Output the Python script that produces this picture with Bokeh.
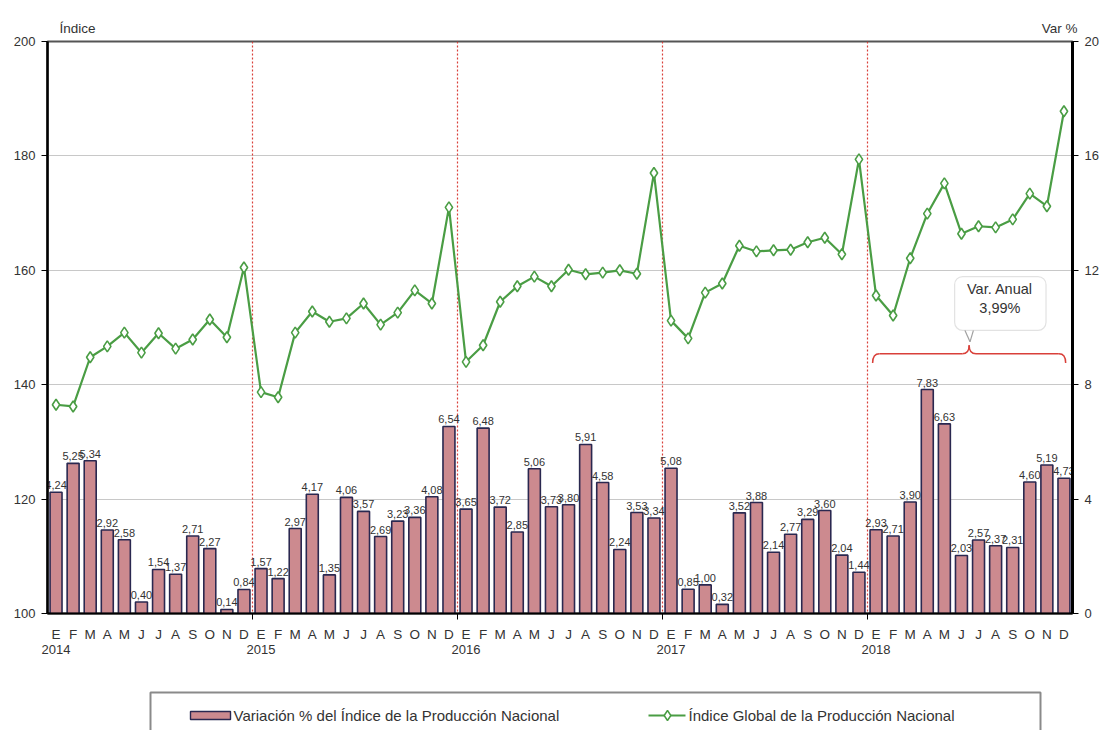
from bokeh.plotting import figure
from bokeh.models import Range1d, LinearAxis, FixedTicker, Span, Label, BoxAnnotation
from bokeh.layouts import column
from bokeh.embed import file_html
from bokeh.resources import INLINE
from bokeh.core.properties import value

# ---------------- data ----------------
months = ["E", "F", "M", "A", "M", "J", "J", "A", "S", "O", "N", "D"]
years = ["2014", "2015", "2016", "2017", "2018"]

var_pct = [
    4.24, 5.25, 5.34, 2.92, 2.58, 0.40, 1.54, 1.37, 2.71, 2.27, 0.14, 0.84,
    1.57, 1.22, 2.97, 4.17, 1.35, 4.06, 3.57, 2.69, 3.23, 3.36, 4.08, 6.54,
    3.65, 6.48, 3.72, 2.85, 5.06, 3.73, 3.80, 5.91, 4.58, 2.24, 3.53, 3.34,
    5.08, 0.85, 1.00, 0.32, 3.52, 3.88, 2.14, 2.77, 3.29, 3.60, 2.04, 1.44,
    2.93, 2.71, 3.90, 7.83, 6.63, 2.03, 2.57, 2.37, 2.31, 4.60, 5.19, 4.73,
]

indice = [
    136.5, 136.2, 144.8, 146.7, 149.1, 145.6, 149.0, 146.3, 147.9, 151.4, 148.3, 160.5,
    138.7, 137.8, 149.1, 152.8, 151.0, 151.6, 154.2, 150.5, 152.6, 156.5, 154.2, 171.0,
    144.0, 146.9, 154.5, 157.2, 158.9, 157.2, 160.1, 159.3, 159.6, 160.0, 159.4, 177.0,
    151.2, 148.1, 156.1, 157.7, 164.3, 163.3, 163.5, 163.6, 164.9, 165.7, 162.8, 179.4,
    155.6, 152.1, 162.1, 169.9, 175.2, 166.4, 167.7, 167.5, 168.9, 173.4, 171.2, 187.8,
]

left_ticks = [100, 120, 140, 160, 180, 200]
right_ticks = [0, 4, 8, 12, 16, 20]
left_title = "Índice"
right_title = "Var %"
annual_var_title = "Var. Anual"
annual_var_value = "3,99%"
bar_name = "Variación % del Índice de la Producción Nacional"
line_name = "Índice Global de la Producción Nacional"

# ---------------- derived ----------------
n = len(var_pct)
xs = list(range(n))
bar_labels = [f"{v:.2f}".replace(".", ",") for v in var_pct]
month_labels = months * len(years)
year_starts = [12 * i for i in range(len(years))]
boundaries = [s - 0.5 for s in year_starts[1:]]

FONT = "Liberation Sans"
BAR_FILL = "#CC8A8F"
BAR_LINE = "#2A2850"
GREEN = "#4A9D44"
RED = "#D9403A"
TXT = "#333333"

W, HM, HL = 1102, 676, 54
FL, FR = 47, 1072  # frame left/right in page px

p = figure(width=W, height=HM, x_range=Range1d(-0.5, n - 0.5), y_range=Range1d(100, 200),
           output_backend="svg", toolbar_location=None,
           min_border_left=FL, min_border_right=W - FR, min_border_top=41, min_border_bottom=63)
xa = p.below[0]
ya = p.left[0]
p.extra_y_ranges = {"var": Range1d(0, 20)}
p.background_fill_color = "white"
p.border_fill_color = "white"
p.outline_line_color = "#555555"
p.outline_line_width = 2

# grid
p.xgrid.visible = False
p.ygrid.ticker = FixedTicker(ticks=left_ticks)
p.ygrid.grid_line_color = "#C8C8C8"
p.ygrid.grid_line_width = 1.2

# left axis
ya.ticker = FixedTicker(ticks=left_ticks)
ya.axis_line_color = "black"
ya.axis_line_width = 2.5
ya.major_tick_out = 6
ya.major_tick_in = 0
ya.minor_tick_line_color = None
ya.major_label_text_font = FONT
ya.major_label_text_font_size = "13px"
ya.major_label_text_color = TXT
ya.major_label_standoff = 6

# right axis
ra = LinearAxis(y_range_name="var", ticker=FixedTicker(ticks=right_ticks))
ra.axis_line_color = "black"
ra.axis_line_width = 3
ra.major_tick_out = 6
ra.major_tick_in = 0
ra.minor_tick_line_color = None
ra.major_label_text_font = FONT
ra.major_label_text_font_size = "13px"
ra.major_label_text_color = TXT
ra.major_label_standoff = 6
p.add_layout(ra, "right")

# month axis
xa.ticker = FixedTicker(ticks=xs, minor_ticks=boundaries)
xa.major_label_overrides = {i: month_labels[i] for i in xs}
xa.axis_line_color = "black"
xa.axis_line_width = 2
xa.major_tick_line_color = None
xa.major_tick_out = 0
xa.major_tick_in = 0
xa.minor_tick_out = 6
xa.minor_tick_in = 0
xa.minor_tick_line_color = "black"
xa.major_label_text_font = FONT
xa.major_label_text_font_size = "13.5px"
xa.major_label_text_color = TXT
xa.major_label_standoff = 7

# year axis
yr = LinearAxis(ticker=FixedTicker(ticks=year_starts),
                major_label_overrides={s: years[i] for i, s in enumerate(year_starts)})
yr.axis_line_color = None
yr.major_tick_line_color = None
yr.minor_tick_line_color = None
yr.major_tick_out = 0
yr.minor_tick_out = 0
yr.major_label_standoff = 0
yr.major_label_text_font = FONT
yr.major_label_text_font_size = "13px"
yr.major_label_text_color = TXT
p.add_layout(yr, "below")

# axis titles, carried by an axis above the frame
title_ticks = [1.25, 58.75]
ta = LinearAxis(ticker=FixedTicker(ticks=title_ticks),
                major_label_overrides={title_ticks[0]: left_title, title_ticks[1]: right_title})
ta.axis_line_color = None
ta.major_tick_line_color = None
ta.minor_tick_line_color = None
ta.major_tick_out = 0
ta.minor_tick_out = 0
ta.major_label_standoff = 6
ta.major_label_text_font = FONT
ta.major_label_text_font_size = "13.5px"
ta.major_label_text_color = TXT
p.add_layout(ta, "above")

# year boundary dotted lines
for b in boundaries:
    p.add_layout(Span(location=b, dimension="height", line_color=RED, line_dash="2 2",
                      line_width=1.2, level="underlay"))

# bars
p.vbar(x=xs, top=var_pct, bottom=0, width=0.7, y_range_name="var",
       fill_color=BAR_FILL, line_color=BAR_LINE, line_width=1.6)
p.text(x=xs, y=var_pct, text=bar_labels, y_range_name="var",
       text_font=value(FONT), text_font_size="11px", text_color=TXT,
       text_align="center", text_baseline="bottom", y_offset=-3)

# line
p.line(xs, indice, line_color=GREEN, line_width=2.2)
p.scatter(xs, indice, marker="diamond", size=11, fill_color="white",
          line_color=GREEN, line_width=1.6)

# brace over 2018
bx0, bx1 = year_starts[-1] - 0.2, n - 1 + 0.1
bxc = (bx0 + bx1) / 2
yl, ym, yt = 143.8, 145.4, 146.9
p.quadratic(x0=[bx0, bxc - 0.4, bx1, bxc + 0.4], y0=[yl, ym, yl, ym],
            x1=[bx0 + 0.4, bxc, bx1 - 0.4, bxc], y1=[ym, yt, ym, yt],
            cx=[bx0, bxc, bx1, bxc], cy=[ym, ym, ym, ym],
            line_color=RED, line_width=1.5)
p.segment(x0=[bx0 + 0.4, bxc + 0.4], y0=[ym, ym], x1=[bxc - 0.4, bx1 - 0.4], y1=[ym, ym],
          line_color=RED, line_width=1.5)

# callout box
box = BoxAnnotation(left=bxc - 0.85, right=bxc + 4.5, top=158.9, bottom=149.5,
                    fill_color="white", fill_alpha=1, line_color="#A0A0A0", line_width=1.2,
                    border_radius=8, level="glyph")
p.add_layout(box)
p.patch([bxc - 0.25, bxc + 0.05, bxc + 0.25], [149.5, 147.5, 149.5],
        fill_color="white", line_color=None)
p.segment(x0=[bxc - 0.25, bxc + 0.25], y0=[149.5, 149.5], x1=[bxc + 0.05, bxc + 0.05],
          y1=[147.5, 147.5], line_color="#A0A0A0", line_width=1.2)
p.add_layout(Label(x=bxc + 1.8, y=156.8, text=annual_var_title, text_align="center",
                   text_baseline="middle", text_font=FONT, text_font_size="14.5px",
                   text_color=TXT))
p.add_layout(Label(x=bxc + 1.8, y=153.4, text=annual_var_value, text_align="center",
                   text_baseline="middle", text_font=FONT, text_font_size="14.5px",
                   text_color=TXT))

# ---------------- legend strip (frame aligned with main plot) ----------------
leg = figure(width=W, height=HL, x_range=Range1d(FL, FR), y_range=Range1d(0, HL),
             output_backend="svg", toolbar_location=None, min_border=0,
             min_border_left=FL, min_border_right=W - FR,
             x_axis_location=None, y_axis_location=None)
leg.outline_line_color = None
leg.xgrid.visible = False
leg.ygrid.visible = False
leg.quad(left=[150], right=[1040], top=[38], bottom=[-10], fill_color="white",
         line_color="#8A8A8A", line_width=2)
leg.quad(left=[190], right=[230], top=[19], bottom=[11], fill_color=BAR_FILL,
         line_color=BAR_LINE, line_width=1.4)
leg.text(x=[233], y=[15], text=[bar_name], text_font=value(FONT), text_font_size="15px",
         text_color=TXT, text_baseline="middle", text_align="left")
leg.line([648, 685], [15, 15], line_color=GREEN, line_width=2)
leg.scatter([667], [15], marker="diamond", size=10, fill_color="white", line_color=GREEN,
            line_width=1.5)
leg.text(x=[688], y=[15], text=[line_name], text_font=value(FONT), text_font_size="15px",
         text_color=TXT, text_baseline="middle", text_align="left")

layout = column(p, leg, spacing=0)
open("out.html", "w").write(file_html(layout, INLINE))
